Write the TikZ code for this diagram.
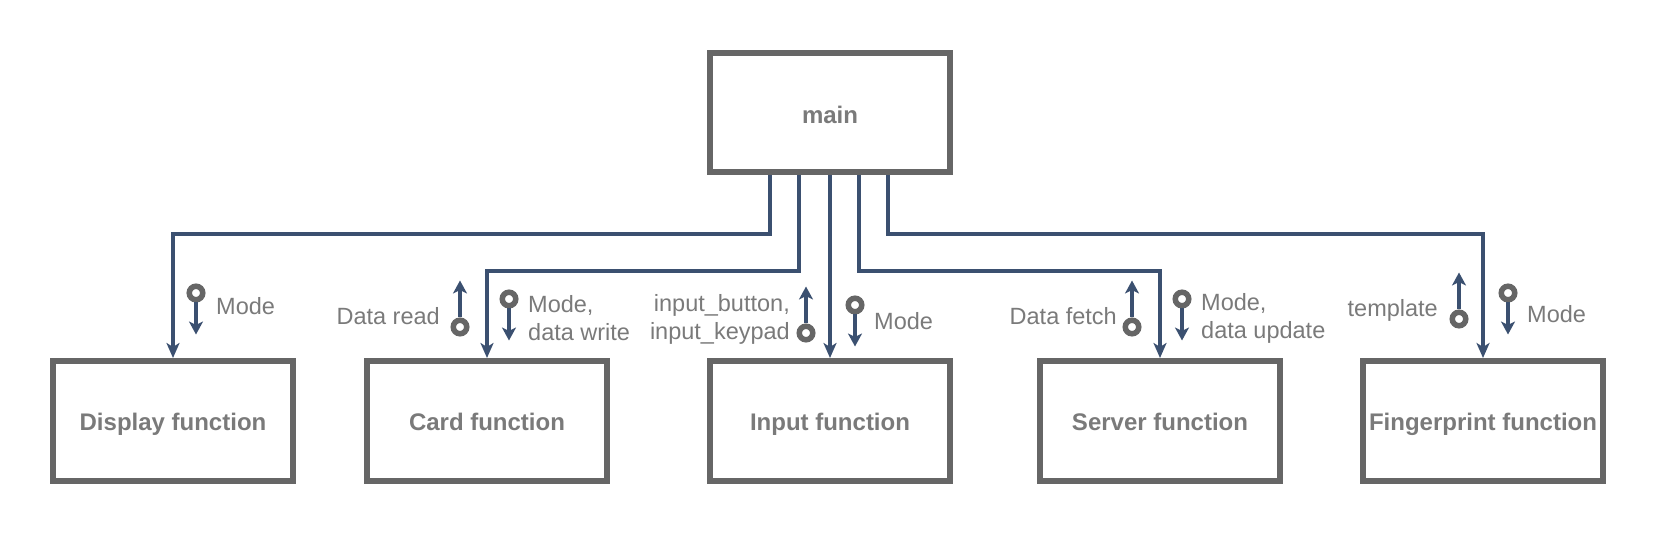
\documentclass[tikz,border=0pt]{standalone}
\usepackage{fontspec}
\setmainfont{Liberation Sans}
\usetikzlibrary{arrows.meta}
\definecolor{boxgray}{HTML}{666666}
\definecolor{txtgray}{HTML}{7A7A7A}
\definecolor{linkblue}{HTML}{3B5070}
\tikzset{
  fbox/.style={draw=boxgray, line width=6pt, minimum width=240pt, minimum height=120pt,
    inner sep=0pt, text height=23.5pt, text depth=5pt,
    font=\fontsize{24}{28}\selectfont\bfseries, text=txtgray, fill=white},
  conn/.style={draw=linkblue, line width=3.5pt, -{Stealth[length=15pt,width=13pt,inset=4pt]}},
  ring/.style={circle, draw=boxgray, line width=5.5pt, minimum size=13.5pt, inner sep=0pt, fill=white},
  flow/.style={draw=linkblue, line width=3.5pt, -{Stealth[length=13pt,width=14pt,inset=3.5pt]}},
  lbl/.style={inner sep=0pt, font=\fontsize{23.5}{28}\selectfont, text=txtgray},
}
\begin{document}
\begin{tikzpicture}[x=1pt,y=-1pt]
\useasboundingbox (0,0) rectangle (1656,534);
% boxes
\node[fbox, minimum height=119pt, text height=28pt] (main) at (830,112.5) {main};
\node[fbox] (disp) at (173,421) {Display function};
\node[fbox] (card) at (487,421) {Card function};
\node[fbox] (inp)  at (830,421) {Input function};
\node[fbox] (srv)  at (1160,421) {Server function};
\node[fbox] (fp)   at (1483,421) {Fingerprint function};
% connectors
\draw[conn] ([xshift=-60pt]main.south) -- ++(0,59) -| (disp.north);
\draw[conn] ([xshift=-31pt]main.south) -- ++(0,96) -| (card.north);
\draw[conn] (main.south) -- (inp.north);
\draw[conn] ([xshift=29pt]main.south) -- ++(0,96) -| (srv.north);
\draw[conn] ([xshift=58pt]main.south) -- ++(0,59) -| (fp.north);
% display flows
\node[ring] (d1) at (196,293) {};
\draw[flow] (d1.south) -- ++(0,32);
\node[lbl, anchor=west] (dl1) at (216,306) {Mode};
% card flows
\node[ring] (c1) at (460,327) {};
\draw[flow] (c1.north) -- ++(0,-37);
\node[lbl, anchor=east] (cl1) at (440,316) {Data read};
\node[ring] (c2) at (509,299) {};
\draw[flow] (c2.south) -- ++(0,32);
\node[lbl, anchor=west, align=left] (cl2) at (528,318) {Mode,\\data write};
% input flows
\node[ring] (i1) at (806,333) {};
\draw[flow] (i1.north) -- ++(0,-37);
\node[lbl, anchor=east, align=right] (il1) at (790,319) {input\_button,\\input\_keypad};
\node[ring] (i2) at (855,305) {};
\draw[flow] (i2.south) -- ++(0,32);
\node[lbl, anchor=west] (il2) at (874,321) {Mode};
% server flows
\node[ring] (s1) at (1132,327) {};
\draw[flow] (s1.north) -- ++(0,-37);
\node[lbl, anchor=east] (sl1) at (1117,316) {Data fetch};
\node[ring] (s2) at (1182,299) {};
\draw[flow] (s2.south) -- ++(0,32);
\node[lbl, anchor=west, align=left] (sl2) at (1201,318) {Mode,\\data update};
% fingerprint flows
\node[ring] (f1) at (1459,319) {};
\draw[flow] (f1.north) -- ++(0,-37);
\node[lbl, anchor=east] (fl1) at (1438,310) {template};
\node[ring] (f2) at (1508,293) {};
\draw[flow] (f2.south) -- ++(0,32);
\node[lbl, anchor=west] (fl2) at (1527,314) {Mode};
\end{tikzpicture}
\end{document}
